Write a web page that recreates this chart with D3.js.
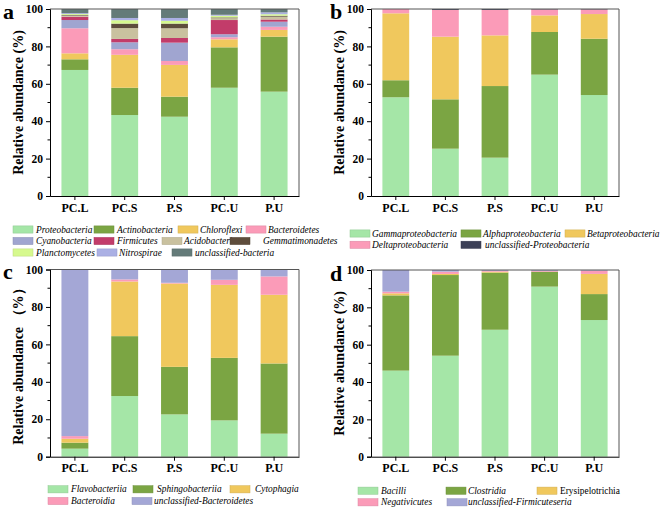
<!DOCTYPE html>
<html><head><meta charset="utf-8">
<script src="https://cdn.jsdelivr.net/npm/d3@7"></script>
<style>body{margin:0;background:#fff}svg{display:block}
svg text{font-family:"Liberation Serif","Times New Roman",Times,serif !important;}</style>
</head><body>
<script>
// ---------- DATA ----------
const samples = ["PC.L","PC.S","P.S","PC.U","P.U"];
const yTicks = [0,20,40,60,80,100];

// Panel a (phylum)
const phylaNames = ["Proteobacteria","Actinobacteria","Chloroflexi","Bacteroidetes","Cyanobacteria","Firmicutes","Acidobacteria","Gemmatimonadetes","Planctomycetes","Nitrospirae","unclassified-bacteria"];
const proteobacteria   = [67.4,43.3,42.4,57.9,55.8];
const actinobacteria   = [5.7,14.6,10.7,21.6,29.4];
const chloroflexi      = [3.2,17.6,17.0,4.3,3.6];
const bacteroidetes    = [13.4,3.0,2.1,1.1,1.7];
const cyanobacteria    = [4.4,3.7,9.8,1.6,2.7];
const firmicutes       = [1.8,1.8,2.5,7.6,1.2];
const acidobacteria    = [0.6,5.8,5.2,1.0,1.5];
const gemmatimonadetes = [0.3,2.4,2.5,0.4,0.5];
const planctomycetes   = [0.5,1.8,1.5,0.9,0.8];
const nitrospirae      = [0.5,1.2,1.5,0.5,1.0];
const unclassBacteria  = [2.2,4.8,4.8,3.1,1.8];

// Panel b (Proteobacteria classes)
const proteoNames = ["Gammaproteobacteria","Alphaproteobacteria","Betaproteobacteria","Deltaproteobacteria","unclassified-Proteobacteria"];
const gammaproteo = [52.8,25.3,20.5,64.9,54.0];
const alphaproteo = [9.1,26.4,38.3,22.8,30.1];
const betaproteo  = [35.8,33.5,27.1,8.9,13.2];
const deltaproteo = [2.3,14.3,13.6,3.2,2.5];
const unclassProteo = [0.0,0.5,0.5,0.2,0.2];

// Panel c (Bacteroidetes classes)
const bactNames = ["Flavobacteriia","Sphingobacteriia","Cytophagia","Bacteroidia","unclassified-Bacteroidetes"];
const flavobacteriia   = [4.3,32.4,22.6,19.4,12.3];
const sphingobacteriia = [3.2,32.0,25.4,33.4,37.5];
const cytophagia       = [2.1,29.2,44.5,39.0,36.7];
const bacteroidia      = [1.4,1.1,0.4,2.7,9.8];
const unclassBact      = [89.0,5.3,7.1,5.5,3.7];

// Panel d (Firmicutes classes)
const firmNames = ["Bacilli","Clostridia","Erysipelotrichia","Negativicutes","unclassified-Firmicuteseria"];
const bacilli       = [46.1,54.1,68.0,91.1,73.2];
const clostridia    = [40.3,43.2,30.6,8.0,13.9];
const erysipelo     = [1.1,0.6,0.5,0.0,10.8];
const negativicutes = [0.9,1.2,0.5,0.5,1.8];
const unclassFirm   = [11.6,0.9,0.4,0.4,0.3];

// ---------- STYLE / LAYOUT ----------
const C = {
  lg:"#a5e6a7", ol:"#7ba543", ye:"#f0c85d", pk:"#fb9bb8", cy:"#a0a5d0", fi:"#c23c6a",
  ac:"#c9c19f", ge:"#5e4d3c", pl:"#d6f98e", ni:"#abb0e4", ub:"#647b79", up:"#3c4057", ul:"#a4a7d6"
};
const serif = "Liberation Serif, Times New Roman, Times, serif";

const panels = [
  {label:"a", names:phylaNames,
   series:[proteobacteria,actinobacteria,chloroflexi,bacteroidetes,cyanobacteria,firmicutes,acidobacteria,gemmatimonadetes,planctomycetes,nitrospirae,unclassBacteria],
   colors:[C.lg,C.ol,C.ye,C.pk,C.cy,C.fi,C.ac,C.ge,C.pl,C.ni,C.ub],
   x0:50, x1:299, yTop:9, yBot:196, labelX:3, labelY:19, titleX:18, title:"Relative abundance (%)",
   legend:[[13,36,229.5],[94,117,229.5],[178,200,229.5],[246,268,229.5],
           [13,36,241],[94,117,241],[162,184,241],[230,263,241],
           [13,36,252.5],[97,119,252.5],[172,195,252.5]], italic:[1,1,1,1,1,1,1,1,1,1,1]},
  {label:"b", names:proteoNames,
   series:[gammaproteo,alphaproteo,betaproteo,deltaproteo,unclassProteo],
   colors:[C.lg,C.ol,C.ye,C.pk,C.up],
   x0:371, x1:619, yTop:9, yBot:196, labelX:330, labelY:19, titleX:339, title:"Relative abundance (%)",
   legend:[[350,372,233.5],[461,483,233.5],[565,587,233.5],[350,372,244.8],[461,485,244.8]], italic:[1,1,1,1,1]},
  {label:"c", names:bactNames,
   series:[flavobacteriia,sphingobacteriia,cytophagia,bacteroidia,unclassBact],
   colors:[C.lg,C.ol,C.ye,C.pk,C.ul],
   x0:50, x1:299, yTop:269.5, yBot:456.7, labelX:3, labelY:279, titleX:18, title:"Relative abundance （%）",
   legend:[[48,71,489.3],[133,157,489.3],[230,255,489.3],[48,71,501],[132,154,501]], italic:[1,1,1,1,1]},
  {label:"d", names:firmNames,
   series:[bacilli,clostridia,erysipelo,negativicutes,unclassFirm],
   colors:[C.lg,C.ol,C.ye,C.pk,C.ul],
   x0:371, x1:619, yTop:270, yBot:456.7, labelX:330, labelY:281, titleX:339, title:"Relative abundance (%)",
   legend:[[358,381,490.7],[446,468,490.7],[537,560,490.7],[358,381,502.3],[447,468,502.3]], italic:[1,1,0,1,1]}
];

const svg = d3.select("body").append("svg").attr("width",661).attr("height",512)
  .attr("font-family",serif);

panels.forEach(p=>{
  const g = svg.append("g");
  const x = d3.scaleBand().domain(samples).range([p.x0,p.x1]).paddingInner(0.46).paddingOuter(0.23);
  const y = d3.scaleLinear().domain([0,100]).range([p.yBot,p.yTop]);

  const rows = samples.map((s,i)=>{const o={sample:s}; p.names.forEach((n,k)=>o[n]=p.series[k][i]); return o;});
  const stacked = d3.stack().keys(p.names)(rows);
  stacked.forEach((layer,k)=>{
    g.append("g").selectAll("rect").data(layer).join("rect")
      .attr("x",d=>x(d.data.sample)).attr("width",x.bandwidth())
      .attr("y",d=>y(d[1])).attr("height",d=>Math.max(0,y(d[0])-y(d[1])))
      .attr("fill",p.colors[k]);
  });

  g.append("line").attr("x1",p.x0).attr("x2",p.x1).attr("y1",p.yTop).attr("y2",p.yTop).attr("stroke","#555").attr("stroke-width",1);
  g.append("line").attr("x1",p.x1).attr("x2",p.x1).attr("y1",p.yTop).attr("y2",p.yBot).attr("stroke","#555").attr("stroke-width",1);

  const ya = g.append("g").attr("transform",`translate(${p.x0},0)`)
    .call(d3.axisLeft(y).tickValues(yTicks).tickSize(4).tickPadding(3).tickFormat(d3.format("d")));
  ya.attr("font-family",serif);
  ya.append("g").selectAll("line").data([10,30,50,70,90]).join("line")
    .attr("x1",0).attr("x2",-2.5).attr("y1",d=>y(d)).attr("y2",d=>y(d)).attr("stroke","#000");
  ya.selectAll("text").attr("font-family",serif).style("font-weight","bold").style("font-size","11.5px").attr("fill","#000");
  ya.select(".domain").attr("stroke","#000");

  const xa = g.append("g").attr("transform",`translate(0,${p.yBot})`)
    .call(d3.axisBottom(x).tickSize(4).tickPadding(3).tickSizeOuter(0));
  xa.attr("font-family",serif);
  xa.selectAll("text").attr("font-family",serif).style("font-weight","bold").style("font-size","12px").attr("fill","#000");
  xa.select(".domain").attr("stroke","#000");

  g.append("text").attr("transform",`translate(${p.titleX},${(p.yTop+p.yBot)/2}) rotate(-90)`)
    .attr("text-anchor","middle").attr("dominant-baseline","central").attr("font-family",serif)
    .style("font-weight","bold").style("font-size","14px").text(p.title);

  g.append("text").attr("x",p.labelX).attr("y",p.labelY).attr("font-family",serif)
    .style("font-weight","bold").style("font-size","22px").text(p.label);

  p.names.forEach((n,k)=>{
    const [sx,tx,cy] = p.legend[k];
    g.append("rect").attr("x",sx).attr("y",cy-3.6).attr("width",20).attr("height",7.2)
      .attr("fill",p.colors[k]).attr("stroke",d3.color(p.colors[k]).darker(0.4)).attr("stroke-width",0.5);
    g.append("text").attr("x",tx).attr("y",cy).attr("dominant-baseline","central").attr("font-family",serif)
      .style("font-size","9.4px").style("font-style",p.italic[k]?"italic":"normal").text(n);
  });
});
</script>
</body></html>
